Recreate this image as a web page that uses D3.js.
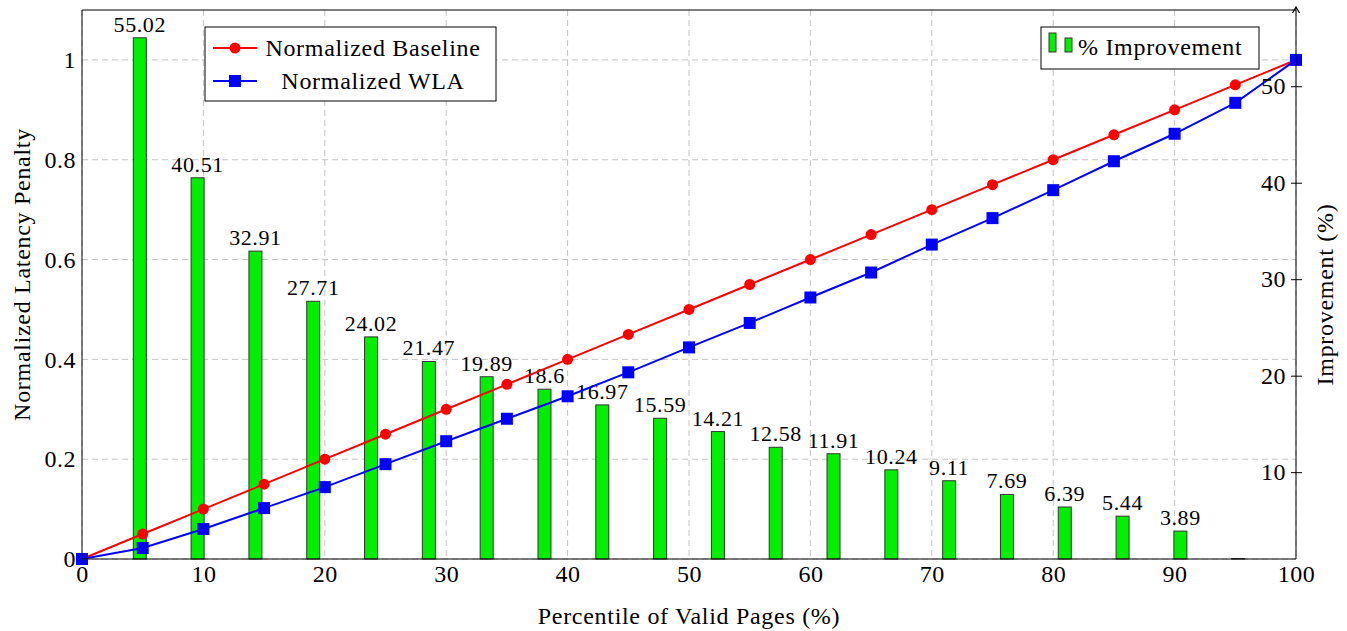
<!DOCTYPE html>
<html>
<head>
<meta charset="utf-8">
<script src="https://cdn.jsdelivr.net/npm/d3@7"></script>
<style>
  body { margin: 0; background: #fff; }
  svg text { font-family: "Liberation Serif", "DejaVu Serif", serif; fill: #000; }
</style>
</head>
<body>
<div id="viz"></div>
<script>
// data
let percentiles = [0, 5, 10, 15, 20, 25, 30, 35, 40, 45, 50, 55, 60, 65, 70, 75, 80, 85, 90, 95, 100];
let baseline = [0, 0.05, 0.1, 0.15, 0.2, 0.25, 0.3, 0.35, 0.4, 0.45, 0.5, 0.55, 0.6, 0.65, 0.7, 0.75, 0.8, 0.85, 0.9, 0.95, 1];
let wla = [0, 0.022, 0.06, 0.102, 0.144, 0.19, 0.236, 0.281, 0.326, 0.374, 0.424, 0.473, 0.524, 0.574, 0.63, 0.683, 0.739, 0.797, 0.852, 0.914, 1];
let improvement = [55.02, 40.51, 32.91, 27.71, 24.02, 21.47, 19.89, 18.6, 16.97, 15.59, 14.21, 12.58, 11.91, 10.24, 9.11, 7.69, 6.39, 5.44, 3.89, 1.05];
let barLabels = ['55.02', '40.51', '32.91', '27.71', '24.02', '21.47', '19.89', '18.6', '16.97', '15.59', '14.21', '12.58', '11.91', '10.24', '9.11', '7.69', '6.39', '5.44', '3.89', ''];
let xTicks = [0, 10, 20, 30, 40, 50, 60, 70, 80, 90, 100];
let yTicks = [0, 0.2, 0.4, 0.6, 0.8, 1];
let y2Ticks = [10, 20, 30, 40, 50];

let margin = { top: 10, right: 51, bottom: 72, left: 82 };
let width = 1347 - margin.left - margin.right,
    height = 631 - margin.top - margin.bottom;
let fontSize = '24px', spacing = '0.7px';

let svg = d3.select('#viz').append('svg')
    .attr('width', 1347)
    .attr('height', 631);
let g = svg.append('g')
    .attr('transform', 'translate(' + margin.left + ',' + margin.top + ')');

let xScale = d3.scaleLinear().domain([0, 100]).range([0, width]);
let yScale = d3.scaleLinear().domain([0, 1.1]).range([height, 0]);
let y2Scale = d3.scaleLinear().domain([1.0, 57.9]).range([height, 0]);
// bars sit on 21 evenly spaced slots across the axis
let barX = d3.scaleLinear().domain([0, 21]).range([0, width]);

// grid
g.append('g').selectAll('line').data(xTicks).enter().append('line')
    .attr('x1', d => xScale(d)).attr('x2', d => xScale(d))
    .attr('y1', 0).attr('y2', height)
    .attr('stroke', '#c4c4c4').attr('stroke-dasharray', '6,4');
g.append('g').selectAll('line').data(yTicks).enter().append('line')
    .attr('x1', 0).attr('x2', width)
    .attr('y1', d => yScale(d)).attr('y2', d => yScale(d))
    .attr('stroke', '#c4c4c4').attr('stroke-dasharray', '6,4');

// bars
let barW = 13;
g.append('g').selectAll('rect').data(improvement).enter().append('rect')
    .attr('x', (d, i) => barX(i + 1) - barW / 2)
    .attr('y', d => y2Scale(d))
    .attr('width', barW)
    .attr('height', d => height - y2Scale(d))
    .attr('fill', '#00ee00')
    .attr('stroke', '#333')
    .attr('stroke-width', 1);

g.append('g').selectAll('text').data(improvement).enter().append('text')
    .attr('x', (d, i) => barX(i + 1))
    .attr('y', d => y2Scale(d) - 6)
    .attr('text-anchor', 'middle')
    .style('font-size', '22px')
    .style('letter-spacing', '0.6px')
    .text((d, i) => barLabels[i]);

// lines
let line = (vals) => d3.line()
    .x((d, i) => xScale(percentiles[i]))
    .y(d => yScale(d))(vals);

g.append('path').attr('d', line(baseline))
    .attr('fill', 'none').attr('stroke', '#ff0000').attr('stroke-width', 2);
g.append('path').attr('d', line(wla))
    .attr('fill', 'none').attr('stroke', '#0000ff').attr('stroke-width', 2);

g.append('g').selectAll('circle').data(baseline).enter().append('circle')
    .attr('cx', (d, i) => xScale(percentiles[i]))
    .attr('cy', d => yScale(d))
    .attr('r', 5.5)
    .attr('fill', '#ff0000');
g.append('g').selectAll('rect').data(wla).enter().append('rect')
    .attr('x', (d, i) => xScale(percentiles[i]) - 6)
    .attr('y', d => yScale(d) - 6)
    .attr('width', 12).attr('height', 12)
    .attr('fill', '#0000ff');

// frame
g.append('line').attr('x1', 0).attr('x2', width).attr('y1', 0).attr('y2', 0).attr('stroke', '#000');
g.append('line').attr('x1', 0).attr('x2', width).attr('y1', height).attr('y2', height).attr('stroke', '#000');
g.append('line').attr('x1', 0).attr('x2', 0).attr('y1', 0).attr('y2', height).attr('stroke', '#000');
g.append('line').attr('x1', width).attr('x2', width).attr('y1', height).attr('y2', -2).attr('stroke', '#000');
g.append('path')
    .attr('d', 'M' + (width - 3.5) + ',3 L' + width + ',-3 L' + (width + 3.5) + ',3')
    .attr('fill', 'none').attr('stroke', '#000').attr('stroke-width', 1.2);

// axes
let xAxis = g.append('g')
    .attr('transform', 'translate(0,' + height + ')')
    .call(d3.axisBottom(xScale).tickValues(xTicks).tickSize(0).tickPadding(6));
let yAxis = g.append('g')
    .call(d3.axisLeft(yScale).tickValues(yTicks).tickSize(0).tickPadding(6)
        .tickFormat(d => d3.format('')(+d.toFixed(1))));
let y2Axis = g.append('g')
    .attr('transform', 'translate(' + width + ',0)')
    .call(d3.axisLeft(y2Scale).tickValues(y2Ticks).tickSize(-6).tickPadding(10));
[xAxis, yAxis, y2Axis].forEach(a => {
    a.select('.domain').remove();
    a.selectAll('text').style('font-size', fontSize).style('letter-spacing', '0.5px')
        .style('font-family', '"Liberation Serif", serif');
});
y2Axis.selectAll('line').attr('stroke', '#000').attr('x1', -5);

// axis titles
svg.append('text')
    .attr('x', margin.left + width / 2).attr('y', 624)
    .attr('text-anchor', 'middle').style('font-size', fontSize).style('letter-spacing', spacing)
    .text('Percentile of Valid Pages (%)');
svg.append('text')
    .attr('transform', 'translate(30,' + (margin.top + height / 2 - 10) + ') rotate(-90)')
    .attr('text-anchor', 'middle').style('font-size', fontSize).style('letter-spacing', spacing)
    .text('Normalized Latency Penalty');
svg.append('text')
    .attr('transform', 'translate(1333,' + (margin.top + height / 2 + 10) + ') rotate(-90)')
    .attr('text-anchor', 'middle').style('font-size', fontSize).style('letter-spacing', spacing)
    .text('Improvement (%)');

// legend for lines
let leg = svg.append('g').attr('transform', 'translate(205,27)');
leg.append('rect').attr('width', 291).attr('height', 74)
    .attr('fill', '#fff').attr('stroke', '#000');
let legItems = [
    { name: 'Normalized Baseline', color: '#ff0000', shape: 'circle' },
    { name: 'Normalized WLA', color: '#0000ff', shape: 'square' }
];
legItems.forEach((it, i) => {
    let cy = 21 + i * 33;
    leg.append('line').attr('x1', 8).attr('x2', 52).attr('y1', cy).attr('y2', cy)
        .attr('stroke', it.color).attr('stroke-width', 2);
    if (it.shape === 'circle') {
        leg.append('circle').attr('cx', 30).attr('cy', cy).attr('r', 5.5).attr('fill', it.color);
    } else {
        leg.append('rect').attr('x', 24).attr('y', cy - 6).attr('width', 12).attr('height', 12).attr('fill', it.color);
    }
    leg.append('text').attr('x', 168).attr('y', cy + 8)
        .attr('text-anchor', 'middle').style('font-size', fontSize).style('letter-spacing', spacing)
        .text(it.name);
});

// legend for bars
let leg2 = svg.append('g').attr('transform', 'translate(1041,27)');
leg2.append('rect').attr('width', 218).attr('height', 42)
    .attr('fill', '#fff').attr('stroke', '#000');
leg2.append('rect').attr('x', 8).attr('y', 6).attr('width', 7).attr('height', 19)
    .attr('fill', '#00ee00').attr('stroke', '#333');
leg2.append('rect').attr('x', 24).attr('y', 11).attr('width', 7).attr('height', 14)
    .attr('fill', '#00ee00').attr('stroke', '#333');
leg2.append('text').attr('x', 37).attr('y', 28).style('font-size', fontSize).style('letter-spacing', spacing)
    .text('% Improvement');
</script>
</body>
</html>
